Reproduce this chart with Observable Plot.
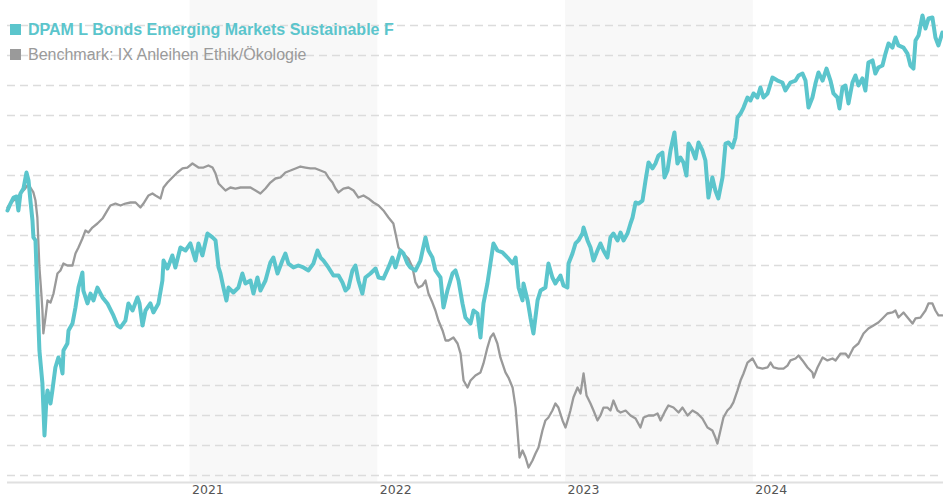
<!DOCTYPE html>
<html>
<head>
<meta charset="utf-8">
<script src="https://cdn.jsdelivr.net/npm/d3@7"></script>
<script src="https://cdn.jsdelivr.net/npm/@observablehq/plot@0.6"></script>
<style>
  html, body { margin: 0; padding: 0; background: #fff; }
  #wrap { position: relative; width: 943px; height: 500px; overflow: hidden; }
  .leg { position: absolute; left: 10px; font-family: "Liberation Sans", Arial, sans-serif; font-size: 16px; line-height: 18px; white-space: nowrap; }
  .leg .sw { display: inline-block; width: 11px; height: 11px; margin-right: 7px; vertical-align: 0px; }
</style>
</head>
<body>
<div id="wrap">
  <div id="chart"></div>
  <div class="leg" style="top:21px;color:#5bc5cc;font-weight:bold;"><span class="sw" style="background:#5bc5cc"></span>DPAM L Bonds Emerging Markets Sustainable F</div>
  <div class="leg" style="top:46px;color:#9a9a9a;"><span class="sw" style="background:#9a9a9a"></span>Benchmark: IX Anleihen Ethik/Ökologie</div>
</div>
<script>
// Time as decimal years
const fundYears = [2020.028,2020.044,2020.060,2020.076,2020.086,2020.097,2020.113,2020.129,2020.140,2020.150,2020.161,2020.166,2020.177,2020.187,2020.198,2020.214,2020.219,2020.225,2020.235,2020.241,2020.257,2020.267,2020.283,2020.299,2020.310,2020.321,2020.326,2020.347,2020.353,2020.374,2020.390,2020.406,2020.416,2020.427,2020.432,2020.454,2020.470,2020.486,2020.507,2020.534,2020.560,2020.592,2020.614,2020.630,2020.656,2020.672,2020.694,2020.720,2020.731,2020.747,2020.763,2020.789,2020.805,2020.832,2020.853,2020.859,2020.880,2020.906,2020.922,2020.949,2020.976,2021.002,2021.029,2021.045,2021.066,2021.093,2021.120,2021.136,2021.152,2021.162,2021.178,2021.194,2021.205,2021.231,2021.258,2021.279,2021.295,2021.322,2021.338,2021.359,2021.375,2021.402,2021.428,2021.444,2021.466,2021.492,2021.508,2021.524,2021.551,2021.577,2021.604,2021.631,2021.657,2021.679,2021.695,2021.711,2021.737,2021.764,2021.791,2021.812,2021.828,2021.844,2021.865,2021.881,2021.897,2021.918,2021.934,2021.961,2021.988,2022.004,2022.030,2022.057,2022.078,2022.094,2022.121,2022.137,2022.158,2022.174,2022.201,2022.227,2022.254,2022.270,2022.291,2022.307,2022.334,2022.350,2022.371,2022.398,2022.414,2022.430,2022.451,2022.467,2022.494,2022.510,2022.531,2022.547,2022.563,2022.584,2022.600,2022.616,2022.637,2022.664,2022.691,2022.718,2022.734,2022.750,2022.771,2022.776,2022.798,2022.813,2022.829,2022.851,2022.867,2022.893,2022.909,2022.930,2022.946,2022.973,2022.989,2023.010,2023.016,2023.037,2023.053,2023.069,2023.090,2023.096,2023.117,2023.133,2023.149,2023.170,2023.186,2023.202,2023.223,2023.239,2023.255,2023.277,2023.293,2023.309,2023.330,2023.346,2023.357,2023.373,2023.389,2023.410,2023.426,2023.442,2023.463,2023.479,2023.495,2023.516,2023.527,2023.543,2023.559,2023.580,2023.596,2023.612,2023.628,2023.644,2023.655,2023.676,2023.692,2023.708,2023.729,2023.745,2023.761,2023.782,2023.798,2023.814,2023.836,2023.852,2023.868,2023.889,2023.905,2023.916,2023.932,2023.948,2023.969,2023.985,2024.001,2024.022,2024.038,2024.054,2024.076,2024.102,2024.129,2024.155,2024.171,2024.198,2024.225,2024.241,2024.262,2024.278,2024.294,2024.315,2024.331,2024.347,2024.369,2024.390,2024.411,2024.427,2024.448,2024.459,2024.475,2024.491,2024.507,2024.528,2024.544,2024.560,2024.581,2024.597,2024.613,2024.635,2024.650,2024.666,2024.688,2024.704,2024.720,2024.741,2024.757,2024.773,2024.800,2024.821,2024.837,2024.853,2024.864,2024.880,2024.901,2024.917,2024.933,2024.954,2024.970,2024.986,2025.007];
const fundValues = [101.67,102.13,102.53,102.6,101.67,102.8,103.13,104.2,103.67,102.33,101.0,99.87,99.67,96.13,92.33,90.13,88.53,86.67,89.0,89.67,88.8,89.67,91.2,91.87,91.53,90.8,92.33,92.8,93.67,94.13,95.2,96.53,97.0,97.53,96.33,95.47,96.13,95.67,96.53,95.87,95.47,94.67,94.0,93.87,94.33,95.47,95.0,95.87,95.47,94.0,95.0,95.47,94.87,95.47,97.0,98.33,97.8,98.67,97.87,99.2,99.0,99.47,98.33,99.47,98.67,100.13,99.87,99.67,97.87,97.47,96.53,95.67,96.53,96.2,96.53,97.47,96.8,97.0,96.13,97.2,96.33,97.0,98.2,98.53,97.47,98.33,98.8,98.13,97.87,98.0,97.87,97.67,98.13,99.0,98.53,98.33,97.87,97.33,97.33,96.87,96.33,96.53,97.67,98.0,97.0,96.13,97.2,97.47,97.8,97.2,97.13,97.87,98.53,97.87,99.0,98.8,98.13,97.87,97.67,98.33,99.87,99.0,98.53,97.67,97.2,95.2,96.33,97.47,97.67,97.0,95.47,94.53,94.13,95.0,94.8,93.2,95.47,96.8,98.13,99.47,99.0,98.87,98.53,98.13,98.53,96.53,95.67,96.8,95.67,94.53,93.47,95.67,96.33,96.53,98.13,97.2,96.8,97.33,96.67,96.53,98.13,98.8,99.47,99.67,100.13,100.53,99.67,99.2,98.33,99.0,99.47,99.0,98.53,99.87,100.13,99.67,100.2,99.67,100.13,100.8,101.2,102.2,102.13,102.33,103.67,104.87,104.47,104.8,105.33,105.53,103.87,104.33,105.67,106.87,104.8,105.2,104.87,104.0,106.13,105.67,105.13,106.2,105.67,105.0,102.53,103.87,103.0,102.47,103.87,106.13,106.2,105.87,106.53,107.87,108.13,108.53,109.2,109.0,109.47,109.2,109.87,109.2,109.47,110.53,110.33,110.2,109.67,110.2,110.33,110.67,110.8,110.33,108.53,109.2,110.13,110.87,110.33,111.13,110.33,109.47,109.2,108.47,109.87,110.0,108.8,110.2,110.67,110.0,110.47,109.67,111.53,111.67,110.8,111.2,111.33,112.13,112.8,112.53,113.2,112.67,112.53,112.13,111.33,111.13,113.0,113.33,114.67,113.8,114.47,114.53,113.2,112.67,113.53];

const benchYears = [2020.028,2020.044,2020.060,2020.081,2020.097,2020.118,2020.134,2020.150,2020.166,2020.177,2020.187,2020.198,2020.209,2020.214,2020.219,2020.230,2020.241,2020.257,2020.273,2020.294,2020.310,2020.326,2020.347,2020.374,2020.390,2020.406,2020.427,2020.443,2020.459,2020.480,2020.507,2020.534,2020.560,2020.576,2020.603,2020.630,2020.656,2020.683,2020.710,2020.736,2020.752,2020.779,2020.800,2020.816,2020.843,2020.859,2020.880,2020.906,2020.933,2020.960,2020.986,2021.013,2021.029,2021.045,2021.072,2021.098,2021.120,2021.136,2021.152,2021.173,2021.189,2021.215,2021.242,2021.269,2021.295,2021.322,2021.349,2021.375,2021.402,2021.428,2021.455,2021.482,2021.508,2021.535,2021.562,2021.588,2021.615,2021.641,2021.668,2021.695,2021.721,2021.737,2021.759,2021.775,2021.791,2021.817,2021.844,2021.871,2021.897,2021.924,2021.950,2021.977,2022.004,2022.030,2022.057,2022.083,2022.099,2022.110,2022.131,2022.147,2022.163,2022.185,2022.201,2022.217,2022.238,2022.254,2022.270,2022.291,2022.307,2022.323,2022.345,2022.361,2022.377,2022.403,2022.425,2022.441,2022.457,2022.478,2022.494,2022.520,2022.547,2022.563,2022.584,2022.600,2022.616,2022.637,2022.653,2022.680,2022.696,2022.718,2022.734,2022.744,2022.755,2022.771,2022.787,2022.803,2022.824,2022.840,2022.856,2022.877,2022.893,2022.909,2022.930,2022.946,2022.962,2022.984,2023.000,2023.016,2023.026,2023.042,2023.064,2023.080,2023.096,2023.112,2023.133,2023.149,2023.170,2023.186,2023.202,2023.223,2023.239,2023.255,2023.277,2023.293,2023.320,2023.346,2023.373,2023.399,2023.416,2023.442,2023.469,2023.490,2023.506,2023.532,2023.548,2023.575,2023.602,2023.623,2023.650,2023.676,2023.703,2023.729,2023.756,2023.782,2023.798,2023.809,2023.825,2023.841,2023.862,2023.878,2023.894,2023.916,2023.932,2023.948,2023.969,2023.996,2024.022,2024.049,2024.076,2024.092,2024.108,2024.134,2024.161,2024.182,2024.198,2024.225,2024.241,2024.262,2024.289,2024.315,2024.321,2024.342,2024.369,2024.395,2024.422,2024.438,2024.465,2024.491,2024.507,2024.534,2024.560,2024.587,2024.613,2024.640,2024.666,2024.688,2024.714,2024.741,2024.757,2024.773,2024.800,2024.826,2024.848,2024.864,2024.890,2024.917,2024.933,2024.954,2024.970,2024.986,2025.007];
const benchValues = [101.87,102.13,102.33,102.53,102.8,103.07,103.33,103.2,102.87,102.33,101.2,97.87,96.0,95.0,93.47,94.53,95.67,95.53,96.13,97.47,97.67,98.13,98.0,98.0,98.8,99.2,99.8,100.33,100.2,100.53,100.8,101.13,101.67,102.0,102.13,102.0,102.13,102.2,102.2,101.87,102.13,102.67,102.8,102.67,102.47,103.2,103.53,103.87,104.2,104.47,104.53,104.8,104.67,104.53,104.53,104.67,104.53,104.13,103.47,103.2,103.0,103.2,103.13,103.2,103.2,103.2,103.0,102.8,103.13,103.53,103.8,103.87,104.2,104.33,104.47,104.6,104.53,104.47,104.47,104.33,104.2,103.87,103.53,103.13,102.87,103.13,103.2,103.0,102.53,102.67,102.47,102.2,102.0,101.67,101.2,100.8,99.87,99.2,98.87,98.67,98.47,97.87,96.87,96.53,96.67,97.0,96.13,95.53,95.0,94.33,93.67,93.0,93.0,93.2,92.8,92.13,90.33,89.87,90.33,90.67,90.87,91.47,92.53,93.2,93.47,92.8,91.87,90.87,90.53,89.87,88.53,87.0,85.2,85.67,85.2,84.53,85.0,85.47,85.87,87.0,87.67,87.87,88.33,88.8,88.53,87.67,87.2,87.87,88.33,89.2,89.87,89.47,90.8,89.33,88.8,88.33,87.67,88.0,88.53,88.53,88.33,89.0,88.33,88.2,88.33,88.0,87.8,87.2,87.87,88.0,88.0,88.13,87.67,88.33,88.67,88.53,88.2,88.53,88.0,88.33,88.13,87.8,87.2,87.0,86.53,86.13,87.0,87.87,88.33,88.53,88.87,89.67,90.33,90.8,91.53,91.8,91.2,91.13,91.2,91.53,91.2,91.13,91.13,91.33,91.67,91.8,92.0,91.67,91.2,90.87,90.53,91.2,91.87,91.67,91.8,91.67,92.13,92.13,91.87,92.53,92.8,93.47,93.8,94.0,94.2,94.47,94.8,94.87,95.0,94.53,94.87,94.47,94.13,94.47,94.53,95.0,95.47,95.47,95.0,94.67,94.67];

const yearTicks = [2021, 2022, 2023, 2024];
const bandStarts = [2021, 2023];
const bandEnds = [2022, 2024];
const gridValues = [84,86,88,90,92,94,96,98,100,102,104,106,108,110,112,114];

const fund = fundYears.map((t, i) => ({t, v: fundValues[i]}));
const bench = benchYears.map((t, i) => ({t, v: benchValues[i]}));
const bands = bandStarts.map((s, i) => ({s, e: bandEnds[i]}));

const yMin = 83.533, yMax = 115.667;

const chart = Plot.plot({
  width: 943,
  height: 500,
  marginLeft: 7,
  marginRight: 0,
  marginTop: 0,
  marginBottom: 18,
  style: {fontFamily: "'DejaVu Sans', Verdana, sans-serif", background: "transparent"},
  x: {type: "linear", domain: [2020.028, 2025.013]},
  y: {domain: [yMin, yMax], axis: null},
  marks: [
    Plot.rect(bands, {x1: "s", x2: "e", y1: yMin, y2: yMax, fill: "#f8f8f8"}),
    Plot.ruleY(gridValues, {stroke: "#dcdcdc", strokeWidth: 1.5, strokeDasharray: "8,5"}),
    Plot.ruleY([yMin], {stroke: "#e0e0e0", strokeWidth: 2}),
    Plot.line(bench, {x: "t", y: "v", stroke: "#9a9a9a", strokeWidth: 2.3}),
    Plot.line(fund, {x: "t", y: "v", stroke: "#5bc5cc", strokeWidth: 4}),
    Plot.axisX({ticks: yearTicks, tickFormat: d => String(d), tickSize: 0, tickPadding: 3, textAnchor: "start", dx: 2, fontSize: 12.5, fill: "#555", label: null})
  ]
});
document.getElementById("chart").appendChild(chart);
</script>
</body>
</html>
